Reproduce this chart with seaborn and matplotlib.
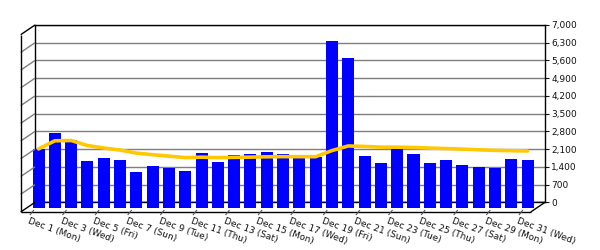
import numpy as np
import matplotlib
matplotlib.use("Agg")
import matplotlib.pyplot as plt
import seaborn as sns
from matplotlib.transforms import ScaledTranslation
from matplotlib.lines import Line2D
from matplotlib.ticker import FuncFormatter

# ---- data ----
day_numbers = list(range(1, 32))
weekdays = ["Mon", "Tue", "Wed", "Thu", "Fri", "Sat", "Sun"] * 5
day_labels = [f"Dec {d} ({weekdays[d - 1]})" for d in day_numbers]
daily_values = [2317, 2961, 2673, 1855, 1962, 1883, 1421, 1658, 1567, 1461,
                2148, 1804, 2080, 2120, 2199, 2120, 1974, 2013, 6581, 5910,
                2053, 1777, 2357, 2108, 1777, 1883, 1698, 1607, 1567, 1923,
                1883]
running_avg = [2317, 2639, 2650, 2452, 2354, 2275, 2153, 2091, 2033, 1976,
               1991, 1976, 1984, 1994, 2007, 2014, 2012, 2012, 2252, 2435,
               2417, 2388, 2387, 2375, 2351, 2333, 2310, 2285, 2260, 2249,
               2237]
y_ticks = list(range(0, 7001, 700))

# ---- layout (pixels) ----
W, H = 600, 250
X0, X1, YT, YB = 35.0, 545.0, 25.0, 202.3
DX, DY = -14.3, 9.7          # full depth offset
XL0, XL1 = -0.656, 30.63

sns.set_style("white")
plt.rcParams["font.family"] = ["DejaVu Sans"]

fig = plt.figure(figsize=(6, 2.5), dpi=100)
fig.patch.set_facecolor("white")
ax = fig.add_axes([X0 / W, 1 - YB / H, (X1 - X0) / W, (YB - YT) / H])
ax.set_facecolor("white")

sns.barplot(x=day_labels, y=daily_values, color="#0000FF", saturation=1,
            width=0.74, linewidth=0, ax=ax, zorder=3)
sns.lineplot(x=day_labels, y=running_avg, color="#FFC800", lw=2.6,
             sort=False, ax=ax, zorder=4)

# shift the series to the middle depth plane
off = ScaledTranslation(DX / 2 / 100, -DY / 2 * 1.1 / 100, fig.dpi_scale_trans)
for p in list(ax.patches):
    p.set_transform(p.get_data_transform() + off)
    p.set_clip_on(False)
for ln in list(ax.lines):
    ln.set_transform(ln.get_transform() + off)
    ln.set_clip_on(False)

ax.set_xlim(XL0, XL1)
ax.set_ylim(0, 7000)
ax.set_yticks(y_ticks)
ax.yaxis.set_major_formatter(FuncFormatter(lambda v, p: f"{int(v):,}"))
ax.yaxis.tick_right()
ax.tick_params(axis="y", length=3, width=0.8, pad=1.5, labelsize=6.5,
               colors="#111111")
ax.set_xticks([])
ax.set_xlabel("")
ax.set_ylabel("")
ax.yaxis.grid(True, color="#7f7f7f", lw=1)
ax.set_axisbelow(True)
ax.axhline(0, color="black", lw=1, zorder=2)
for s in ax.spines.values():
    s.set_color("black")
    s.set_linewidth(1)


def P(x, y):
    return x / W, 1 - y / H


def seg(x1, y1, x2, y2, color="black", lw=1.0):
    (a, b), (c, d) = P(x1, y1), P(x2, y2)
    fig.add_artist(Line2D([a, c], [b, d], transform=fig.transFigure,
                          color=color, lw=lw, solid_capstyle="butt"))


# left wall
for v in y_ticks:
    y = YB - v / 7000 * (YB - YT)
    seg(X0, y, X0 + DX, y + DY, color="black" if v in (0, 7000) else "#7f7f7f")
seg(X0 + DX, YT + DY, X0 + DX, YB + DY)
# floor
seg(X0 + DX, YB + DY, X1 + DX, YB + DY)
seg(X1, YB, X1 + DX, YB + DY)

# x tick marks and labels on the front edge
for i in range(0, 31, 2):
    xb = X0 + (i - XL0) / (XL1 - XL0) * (X1 - X0)
    xf = xb + DX
    seg(xf + 2.5, YB + DY - 2, xf - 1.5, YB + DY + 3, color="#555555", lw=0.8)
    fx, fy = P(xf - 1.5, YB + DY + 4.5)
    fig.text(fx, fy, day_labels[i], rotation=-20, rotation_mode="anchor",
             ha="left", va="top", fontsize=6.5, color="#111111")

fig.savefig("out.png", dpi=100)
